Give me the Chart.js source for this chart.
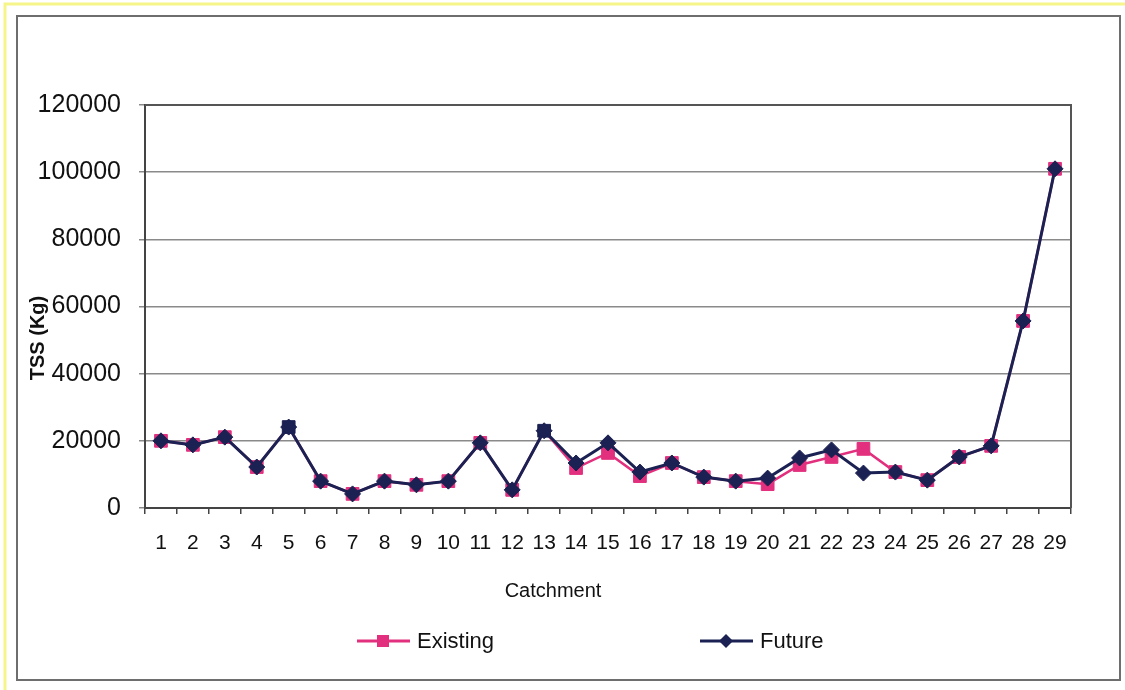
<!DOCTYPE html>
<html>
<head>
<meta charset="utf-8">
<script src="https://cdn.jsdelivr.net/npm/chart.js@4.4.1/dist/chart.umd.min.js"></script>
<style>
  html, body { margin: 0; padding: 0; background: #ffffff; }
  #wrap { width: 1125px; height: 690px; position: relative; }
</style>
</head>
<body>
<div id="wrap"><canvas id="c" width="1125" height="690"></canvas></div>
<script>
// Catchment numbers along the x axis
const catchments = ['1','2','3','4','5','6','7','8','9','10','11','12','13','14','15',
  '16','17','18','19','20','21','22','23','24','25','26','27','28','29'];

// TSS load per catchment (kg)
const existingTSS = [20000, 18800, 21100, 12200, 24100, 8000, 4200, 8000, 6900, 8000,
  19400, 5400, 23000, 11900, 16400, 9500, 13400, 9200, 8000, 7100,
  12800, 15200, 17600, 10700, 8300, 15200, 18500, 55700, 101000];
const futureTSS = [20000, 18800, 21100, 12200, 24100, 8000, 4200, 8000, 6900, 8000,
  19400, 5400, 23000, 13400, 19400, 10700, 13400, 9200, 8000, 8900,
  14900, 17300, 10400, 10700, 8300, 15200, 18500, 55700, 101000];

// Catchments where the existing-case marker is shown dark
const darkMarkerCatchments = ['5', '13'];

// Y axis tick values
const yTicks = [0, 20000, 40000, 60000, 80000, 100000, 120000];

const PINK = '#e2307e';
const NAVY = '#1b2152';
const FONT = '"Liberation Sans", Arial, sans-serif';

const framePlugin = {
  id: 'frame',
  beforeDraw(chart) {
    const ctx = chart.ctx;
    ctx.save();
    ctx.fillStyle = '#ffffff';
    ctx.fillRect(0, 0, chart.width, chart.height);
    // yellow page edge
    ctx.strokeStyle = '#f6f58a';
    ctx.lineWidth = 3;
    ctx.beginPath();
    ctx.moveTo(5, 690); ctx.lineTo(5, 4); ctx.lineTo(1125, 4);
    ctx.stroke();
    // chart outer border
    ctx.strokeStyle = '#6e6e6e';
    ctx.lineWidth = 2;
    ctx.strokeRect(17, 16, 1103, 664);
    ctx.restore();
  },
  beforeDatasetsDraw(chart) {
    const {ctx, chartArea: a} = chart;
    ctx.save();
    ctx.strokeStyle = '#555555';
    ctx.lineWidth = 2;
    ctx.beginPath();
    ctx.moveTo(a.left, a.top); ctx.lineTo(a.right, a.top); ctx.lineTo(a.right, a.bottom);
    ctx.stroke();
    ctx.restore();
  },
  afterDraw(chart) {
    const ctx = chart.ctx;
    ctx.save();
    // y axis title
    ctx.translate(38, 338);
    ctx.rotate(-Math.PI / 2);
    ctx.fillStyle = '#111111';
    ctx.font = 'bold 20px ' + FONT;
    ctx.textAlign = 'center';
    ctx.textBaseline = 'middle';
    ctx.fillText('TSS (Kg)', 0, 0);
    ctx.restore();

    // x axis title
    ctx.save();
    ctx.fillStyle = '#111111';
    ctx.font = '20px ' + FONT;
    ctx.textAlign = 'center';
    ctx.textBaseline = 'middle';
    ctx.fillText('Catchment', 553, 591);
    ctx.restore();

    // legend: line with marker, then label
    const items = [
      {ds: chart.data.datasets[0], x: 357, style: 'rect'},
      {ds: chart.data.datasets[1], x: 700, style: 'rectRot'}
    ];
    const y = 641;
    items.forEach(it => {
      ctx.save();
      ctx.strokeStyle = it.ds.borderColor;
      ctx.lineWidth = 3;
      ctx.beginPath();
      ctx.moveTo(it.x, y); ctx.lineTo(it.x + 53, y);
      ctx.stroke();
      ctx.fillStyle = it.ds.borderColor;
      ctx.beginPath();
      if (it.style === 'rect') {
        ctx.fillRect(it.x + 20, y - 6, 12, 12);
      } else {
        ctx.moveTo(it.x + 26, y - 7); ctx.lineTo(it.x + 33, y);
        ctx.lineTo(it.x + 26, y + 7); ctx.lineTo(it.x + 19, y);
        ctx.closePath(); ctx.fill();
      }
      ctx.fillStyle = '#111111';
      ctx.font = '22px ' + FONT;
      ctx.textAlign = 'left';
      ctx.textBaseline = 'middle';
      ctx.fillText(it.ds.label, it.x + 60, y + 1);
      ctx.restore();
    });
  }
};

new Chart(document.getElementById('c'), {
  type: 'line',
  data: {
    labels: catchments,
    datasets: [
      {
        label: 'Existing',
        data: existingTSS,
        borderColor: PINK,
        backgroundColor: PINK,
        borderWidth: 2.5,
        pointStyle: 'rect',
        pointRadius: 9,
        pointBorderWidth: 1,
        pointBackgroundColor: c => darkMarkerCatchments.includes(catchments[c.dataIndex]) ? NAVY : PINK,
        pointBorderColor: c => darkMarkerCatchments.includes(catchments[c.dataIndex]) ? NAVY : PINK,
        tension: 0,
        order: 2
      },
      {
        label: 'Future',
        data: futureTSS,
        borderColor: NAVY,
        backgroundColor: NAVY,
        borderWidth: 3,
        pointStyle: 'rectRot',
        pointRadius: 8,
        pointBorderWidth: 1,
        pointBackgroundColor: NAVY,
        pointBorderColor: NAVY,
        tension: 0,
        order: 1
      }
    ]
  },
  options: {
    responsive: false,
    animation: false,
    events: [],
    layout: { padding: { left: 0, top: 105, right: 54, bottom: 0 } },
    plugins: { legend: { display: false }, tooltip: { enabled: false } },
    scales: {
      x: {
        offset: true,
        afterFit: s => { s.height = 182; },
        grid: { offset: true, drawOnChartArea: false, drawTicks: true, tickLength: 6, color: '#444444', lineWidth: 1.5 },
        border: { color: '#444444', width: 2 },
        ticks: { color: '#111111', font: { family: FONT, size: 21 }, padding: 17, maxRotation: 0, autoSkip: false }
      },
      y: {
        min: 0,
        max: 120000,
        afterFit: s => { s.width = 145; },
        afterBuildTicks: s => { s.ticks = yTicks.map(v => ({ value: v })); },
        grid: { color: '#8a8a8a', lineWidth: 1.5, tickLength: 6, drawTicks: true },
        border: { color: '#444444', width: 2 },
        ticks: { color: '#111111', font: { family: FONT, size: 25 }, padding: 18, callback: v => String(v) }
      }
    }
  },
  plugins: [framePlugin]
});
</script>
</body>
</html>
